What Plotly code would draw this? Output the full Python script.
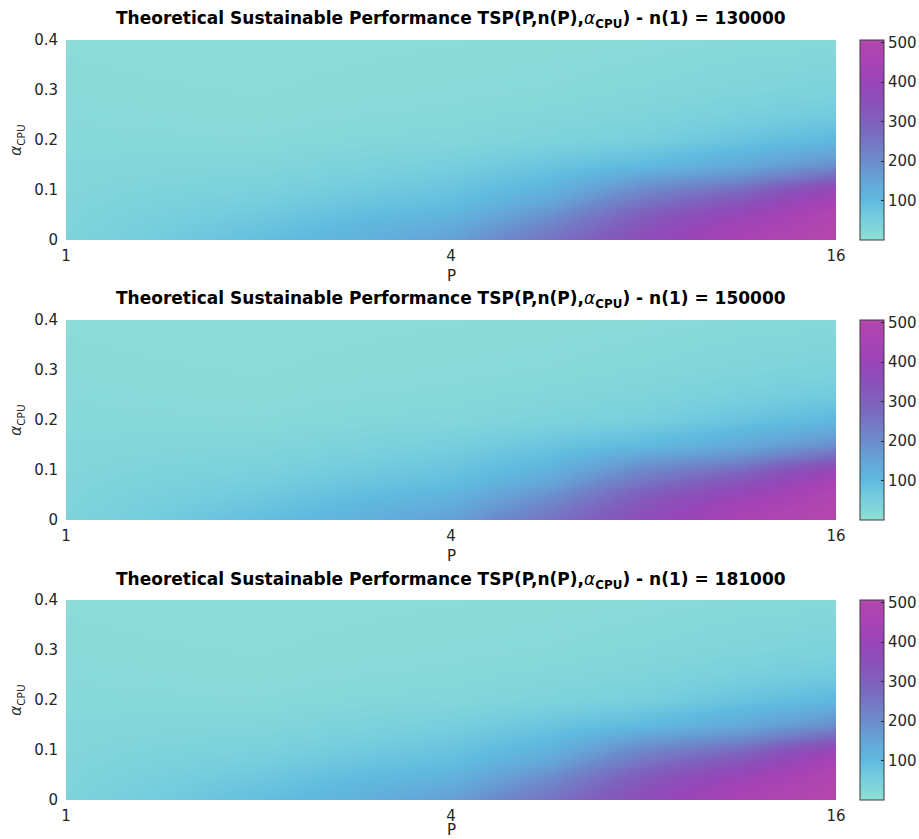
import math
import plotly.graph_objects as go

# Grid on which TSP was tabulated
P_NODES = [1, 1.41, 2, 2.83, 4, 5.66, 8, 11.31, 16]
ALPHA_NODES = [0, 0.025, 0.05, 0.075, 0.1, 0.125, 0.15, 0.2, 0.25, 0.3, 0.4]

# TSP values, one row per alpha_CPU (bottom to top), one column per P
TSP_130000 = [
    [36, 60, 88, 120, 162, 255, 360, 460, 505],
    [34, 55, 78, 108, 140, 225, 340, 440, 500],
    [32, 49, 66, 92, 115, 190, 310, 400, 485],
    [30, 43, 55, 76, 92, 150, 260, 340, 460],
    [28, 37, 45, 62, 78, 118, 210, 275, 400],
    [26, 32, 37, 50, 66, 95, 160, 200, 290],
    [24, 27, 30, 40, 52, 75, 100, 140, 195],
    [20, 19, 18, 24, 27, 38, 50, 78, 105],
    [17, 15, 13, 17, 20, 26, 34, 48, 62],
    [14, 12, 11, 13, 15, 18, 24, 32, 40],
    [10, 9, 9, 10, 11, 12, 14, 18, 20],
]
TSP_150000 = [
    [36, 60, 89, 121, 163, 256, 361, 462, 506],
    [34, 55, 78, 109, 141, 226, 341, 441, 501],
    [32, 49, 66, 92, 116, 191, 311, 401, 486],
    [30, 43, 55, 76, 92, 151, 261, 341, 461],
    [28, 37, 45, 62, 78, 119, 211, 276, 401],
    [26, 32, 37, 50, 66, 95, 161, 201, 291],
    [24, 27, 30, 40, 52, 75, 101, 141, 196],
    [20, 19, 18, 24, 27, 38, 50, 78, 105],
    [17, 15, 13, 17, 20, 26, 34, 48, 62],
    [14, 12, 11, 13, 15, 18, 24, 32, 40],
    [10, 9, 9, 10, 11, 12, 14, 18, 20],
]
TSP_181000 = [
    [37, 61, 89, 122, 164, 257, 362, 463, 507],
    [34, 56, 79, 109, 142, 227, 342, 442, 502],
    [32, 49, 67, 93, 116, 192, 312, 402, 487],
    [30, 43, 55, 77, 93, 151, 262, 342, 462],
    [28, 37, 45, 62, 79, 119, 212, 277, 402],
    [26, 32, 37, 50, 66, 96, 162, 202, 292],
    [24, 27, 30, 40, 52, 75, 101, 141, 197],
    [20, 19, 18, 24, 27, 38, 50, 79, 106],
    [17, 15, 13, 17, 20, 26, 34, 48, 62],
    [14, 12, 11, 13, 15, 18, 24, 32, 40],
    [10, 9, 9, 10, 11, 12, 14, 18, 20],
]
N1_VALUES = [130000, 150000, 181000]
PANELS = [TSP_130000, TSP_150000, TSP_181000]

X_TICKS = [1, 4, 16]
Y_TICKS = [0, 0.1, 0.2, 0.3, 0.4]
CB_TICKS = [100, 200, 300, 400, 500]

Z_MIN, Z_MAX = 0, 507
COLOR_STOPS = [
    (0, "#90dfd6"), (50, "#78cfdd"), (100, "#5fbadf"), (150, "#64a6d8"),
    (200, "#6b8dcc"), (250, "#7576c4"), (300, "#7f60bd"), (350, "#8b50ba"),
    (400, "#9946b8"), (450, "#a843b5"), (507, "#b547ad"),
]
colorscale = [[(v - Z_MIN) / (Z_MAX - Z_MIN), c] for v, c in COLOR_STOPS]

W, H = 919, 839
FONT = "DejaVu Sans"
TXT = "#262626"

# pixel geometry of the three panels (top, bottom)
PLOT_X0, PLOT_X1 = 66, 836
ROWS = [(40, 240), (320, 520), (600, 800)]
CB_X0, CB_W = 860, 24

fig = go.Figure()
layout = dict(
    width=W, height=H,
    margin=dict(l=0, r=0, t=0, b=0, autoexpand=False),
    paper_bgcolor="white", plot_bgcolor="white",
    font=dict(family=FONT, size=15, color=TXT),
    annotations=[],
)

for i, (z, n1) in enumerate(zip(PANELS, N1_VALUES)):
    top, bot = ROWS[i]
    y0, y1 = 1 - bot / H, 1 - top / H
    sfx = "" if i == 0 else str(i + 1)
    fig.add_trace(go.Heatmap(
        x=P_NODES, y=ALPHA_NODES, z=z,
        xaxis="x" + sfx, yaxis="y" + sfx,
        zsmooth="best", zmin=Z_MIN, zmax=Z_MAX,
        colorscale=colorscale,
        colorbar=dict(
            x=CB_X0 / W, xanchor="left", xpad=0,
            y=(y0 + y1) / 2, yanchor="middle", ypad=0,
            len=(bot - top) / H, lenmode="fraction",
            thickness=CB_W, thicknessmode="pixels",
            outlinecolor="#3a3a3a", outlinewidth=1,
            tickvals=CB_TICKS, ticks="inside", ticklen=3, tickcolor=TXT,
            tickfont=dict(family=FONT, size=15, color=TXT),
        ),
    ))
    layout["xaxis" + sfx] = dict(
        domain=[PLOT_X0 / W, PLOT_X1 / W], anchor="y" + sfx,
        type="log", range=[0, math.log10(16)],
        tickvals=X_TICKS, ticktext=[str(t) for t in X_TICKS],
        showgrid=False, zeroline=False, showline=False, ticks="",
        ticklabelstandoff=5, automargin=False,
        tickfont=dict(size=15, color=TXT),
    )
    layout["yaxis" + sfx] = dict(
        domain=[y0, y1], anchor="x" + sfx,
        range=[0, 0.4],
        tickvals=Y_TICKS, ticktext=["0", "0.1", "0.2", "0.3", "0.4"],
        showgrid=False, zeroline=False, showline=False, ticks="",
        ticklabelstandoff=7, automargin=False,
        tickfont=dict(size=15, color=TXT),
        title=dict(text="<i>α</i><sub>CPU</sub>", standoff=8,
                   font=dict(size=15, color=TXT)),
    )
    # x-axis label under the tick labels, kept inside the page
    p_label_y = min(bot + 36, H - 9)
    layout["annotations"].append(dict(
        xref="paper", yref="paper",
        x=(PLOT_X0 + PLOT_X1) / 2 / W, y=1 - p_label_y / H,
        xanchor="center", yanchor="middle", showarrow=False,
        text="P", font=dict(family=FONT, size=15, color=TXT),
    ))
    layout["annotations"].append(dict(
        xref="paper", yref="paper",
        x=(PLOT_X0 + PLOT_X1) / 2 / W, y=1 - (top - 20) / H,
        xanchor="center", yanchor="middle", showarrow=False,
        text=("<b>Theoretical Sustainable Performance TSP(P,n(P),"
              "<span style='font-weight:normal'><i>α</i></span>"
              "<sub>CPU</sub>) - n(1) = %d</b>" % n1),
        font=dict(family=FONT, size=17, color="black"),
    ))

fig.update_layout(**layout)
fig.write_html("out.html")
